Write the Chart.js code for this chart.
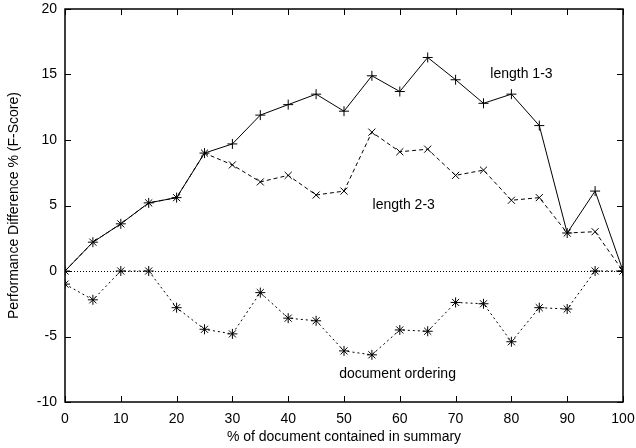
<!DOCTYPE html>
<html>
<head>
<meta charset="utf-8">
<script src="https://cdn.jsdelivr.net/npm/chart.js@4/dist/chart.umd.min.js"></script>
<style>
  html, body { margin: 0; padding: 0; background: #fff; }
  #wrap { width: 636px; height: 448px; }
</style>
</head>
<body>
<div id="wrap"><canvas id="chart" width="636" height="448"></canvas></div>
<script>
const percents = [0, 5, 10, 15, 20, 25, 30, 35, 40, 45, 50, 55, 60, 65, 70, 75, 80, 85, 90, 95, 100];
const length13 = [0, 2.2, 3.6, 5.2, 5.6, 9.0, 9.7, 11.9, 12.7, 13.5, 12.2, 14.9, 13.7, 16.3, 14.6, 12.8, 13.5, 11.1, 2.9, 6.1, 0];
const length23 = [0, 2.2, 3.6, 5.2, 5.6, 9.0, 8.1, 6.8, 7.3, 5.8, 6.1, 10.6, 9.1, 9.3, 7.3, 7.7, 5.4, 5.6, 2.9, 3.0, 0];
const docOrdering = [-1.0, -2.2, 0, 0, -2.8, -4.45, -4.8, -1.65, -3.6, -3.8, -6.1, -6.4, -4.5, -4.6, -2.4, -2.5, -5.4, -2.8, -2.9, 0, 0];
const seriesLabels = ["length 1-3", "length 2-3", "document ordering"];
// where each series label sits, in data units
const labelSpots = [[81.8, 15.0], [60.7, 5.0], [59.6, -7.9]];

const FONT = "'Liberation Sans', Arial, Helvetica, sans-serif";
const SIZE = 14;

function pts(vals) {
   return percents.map((p, i) => ({ x: p, y: vals[i] }));
}

// frame, inward ticks, zero line and series labels
const decor = {
   id: "decor",
   beforeDatasetsDraw(chart) {
      const { ctx, chartArea: a, scales: { y } } = chart;
      ctx.save();
      ctx.strokeStyle = "#000";
      ctx.lineWidth = 1;
      ctx.setLineDash([1, 2]);
      const y0 = Math.round(y.getPixelForValue(0)) + 0.5;
      ctx.beginPath();
      ctx.moveTo(a.left, y0);
      ctx.lineTo(a.right, y0);
      ctx.stroke();
      ctx.restore();
   },
   afterDraw(chart) {
      const { ctx, chartArea: a, scales: { x, y } } = chart;
      ctx.save();
      ctx.strokeStyle = "#000";
      ctx.lineWidth = 1.5;
      ctx.strokeRect(Math.round(a.left), Math.round(a.top),
         Math.round(a.right - a.left), Math.round(a.bottom - a.top));
      ctx.lineWidth = 1;
      const len = 6;
      ctx.beginPath();
      x.ticks.forEach(t => {
         const px = Math.round(x.getPixelForValue(t.value)) + 0.5;
         ctx.moveTo(px, a.bottom); ctx.lineTo(px, a.bottom - len);
         ctx.moveTo(px, a.top); ctx.lineTo(px, a.top + len);
      });
      y.ticks.forEach(t => {
         const py = Math.round(y.getPixelForValue(t.value)) + 0.5;
         ctx.moveTo(a.left, py); ctx.lineTo(a.left + len, py);
         ctx.moveTo(a.right, py); ctx.lineTo(a.right - len, py);
      });
      ctx.stroke();

      ctx.fillStyle = "#000";
      ctx.font = SIZE + "px " + FONT;
      ctx.textAlign = "center";
      ctx.textBaseline = "middle";
      seriesLabels.forEach((txt, i) => {
         ctx.fillText(txt, x.getPixelForValue(labelSpots[i][0]), y.getPixelForValue(labelSpots[i][1]));
      });
      ctx.restore();
   }
};

new Chart(document.getElementById("chart"), {
   type: "line",
   data: {
      datasets: [
         { label: seriesLabels[0], data: pts(length13), pointStyle: "cross", borderDash: [] },
         { label: seriesLabels[1], data: pts(length23), pointStyle: "crossRot", borderDash: [4, 3] },
         { label: seriesLabels[2], data: pts(docOrdering), pointStyle: "star", borderDash: [2, 3] }
      ].map(d => Object.assign(d, {
         borderColor: "#000",
         backgroundColor: "#000",
         borderWidth: 1,
         pointRadius: 5,
         pointBorderWidth: 1,
         pointBorderColor: "#000",
         tension: 0,
         fill: false
      }))
   },
   options: {
      responsive: false,
      animation: false,
      layout: { padding: { top: 9, right: 13, left: 6, bottom: 0 } },
      plugins: { legend: { display: false }, tooltip: { enabled: false } },
      scales: {
         x: {
            type: "linear",
            min: 0, max: 100,
            grid: { display: false, drawTicks: false },
            border: { display: false },
            ticks: { stepSize: 10, color: "#000", padding: 9, font: { family: FONT, size: SIZE } },
            title: { display: true, text: "% of document contained in summary", color: "#000",
               font: { family: FONT, size: SIZE }, padding: { top: 3, bottom: 2 } },
            afterFit(s) { s.height = 46; s.paddingLeft = 0; s.paddingRight = 0; }
         },
         y: {
            min: -10, max: 20,
            grid: { display: false, drawTicks: false },
            border: { display: false },
            ticks: { stepSize: 5, color: "#000", padding: 8, font: { family: FONT, size: SIZE } },
            title: { display: true, text: "Performance Difference % (F-Score)", color: "#000",
               font: { family: FONT, size: SIZE }, padding: { top: 0, bottom: 2 } },
            afterFit(s) { s.width = 59; s.paddingTop = 0; s.paddingBottom = 0; }
         }
      }
   },
   plugins: [decor]
});
</script>
</body>
</html>
